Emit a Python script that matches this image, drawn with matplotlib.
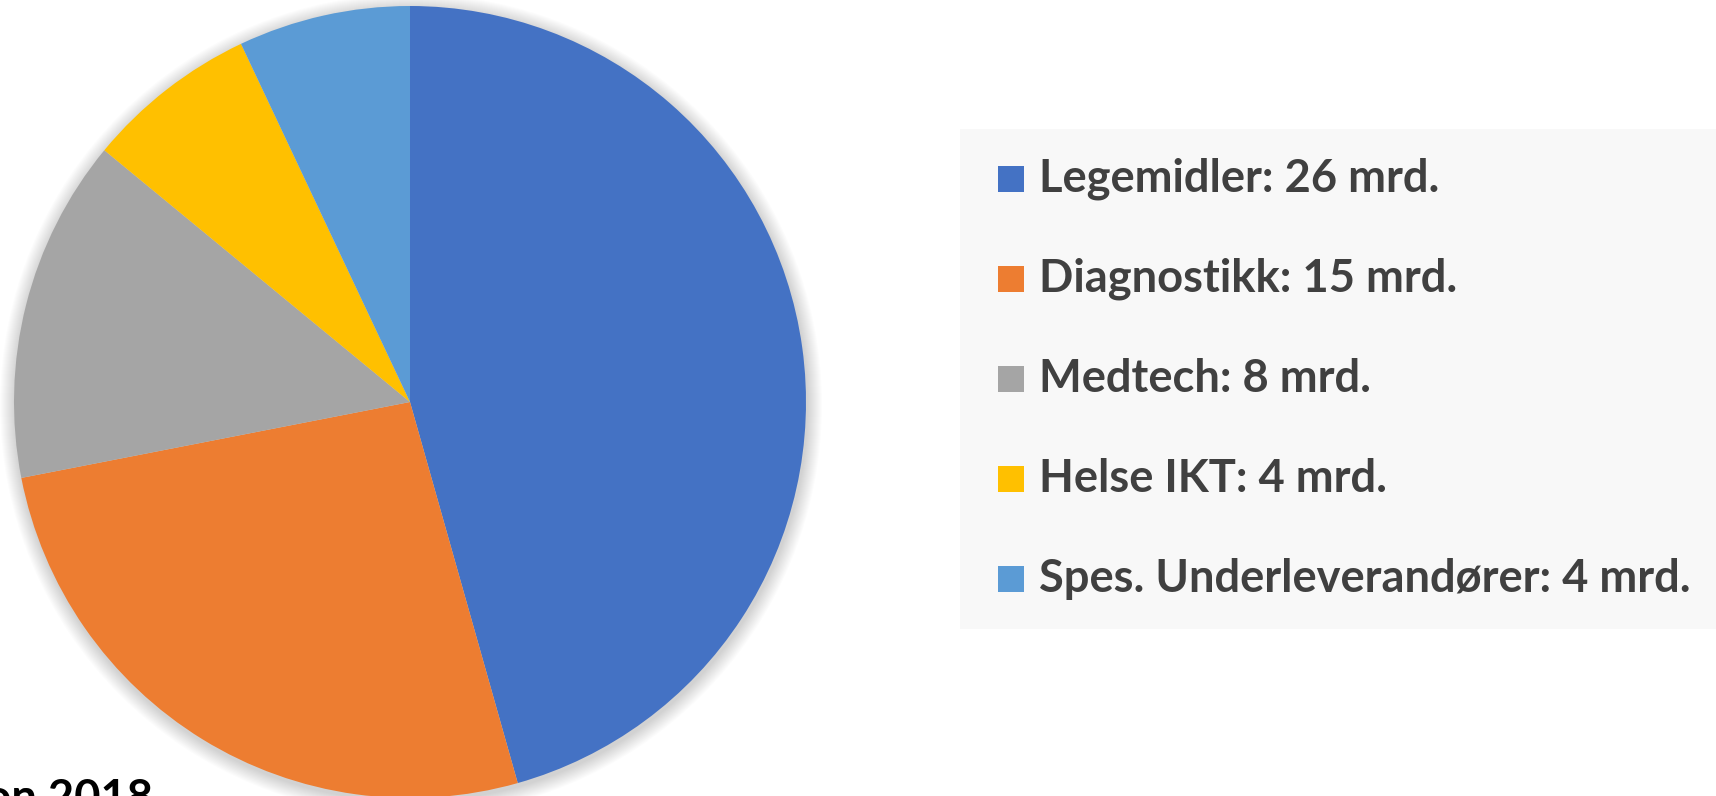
import matplotlib
matplotlib.use("Agg")
import matplotlib.pyplot as plt
from matplotlib.patches import Rectangle, Circle

categories = ["Legemidler", "Diagnostikk", "Medtech", "Helse IKT", "Spes. Underleverandører"]
values = [26, 15, 8, 4, 4]
unit = "mrd."
colors = ["#4472C4", "#ED7D31", "#A5A5A5", "#FFC000", "#5B9BD5"]
source_text = "Menon 2018"

W, H = 1716, 796
fig = plt.figure(figsize=(W / 100, H / 100), dpi=100)
fig.patch.set_facecolor("white")
ax = fig.add_axes([0, 0, 1, 1])
ax.set_xlim(0, W)
ax.set_ylim(0, H)
ax.set_aspect("equal")
ax.axis("off")

cx, cy, r = 410, H - 402, 396

# soft shadow
for k in range(1, 16):
    ax.add_patch(Circle((cx + 1, cy - 3), r + k, facecolor="black",
                        edgecolor="none", alpha=0.011, zorder=1))

ax.pie(values, colors=colors, startangle=90, counterclock=False,
       center=(cx, cy), radius=r, frame=True,
       wedgeprops=dict(linewidth=0, zorder=2))
ax.set_xlim(0, W)
ax.set_ylim(0, H)
ax.axis("off")

# legend box
ax.add_patch(Rectangle((960, H - 629), W - 960, 629 - 129, facecolor="#F8F8F8",
                       edgecolor="none", zorder=1))

labels = [f"{c}: {v} {unit}" for c, v in zip(categories, values)]
font = dict(family=["Lato", "DejaVu Sans"], weight="bold")
renderer = fig.canvas.get_renderer()
probe = ax.text(0, 0, labels[-1], fontsize=30, **font)
w = probe.get_window_extent(renderer).width
probe.remove()
fs = 30 * 650 / w

row_y = [179, 279, 379, 479, 579]
for lab, col, yy in zip(labels, colors, row_y):
    ax.add_patch(Rectangle((998, H - yy - 13), 26, 26, facecolor=col,
                           edgecolor="none", zorder=3))
    ax.text(1039, H - yy, lab, fontsize=fs, color="#404040", va="center",
            ha="left", zorder=3, **font)

ax.text(153, H - 812, source_text, fontsize=fs, color="black", ha="right",
        va="baseline", **font)

fig.savefig("out.png", dpi=100, facecolor="white")
